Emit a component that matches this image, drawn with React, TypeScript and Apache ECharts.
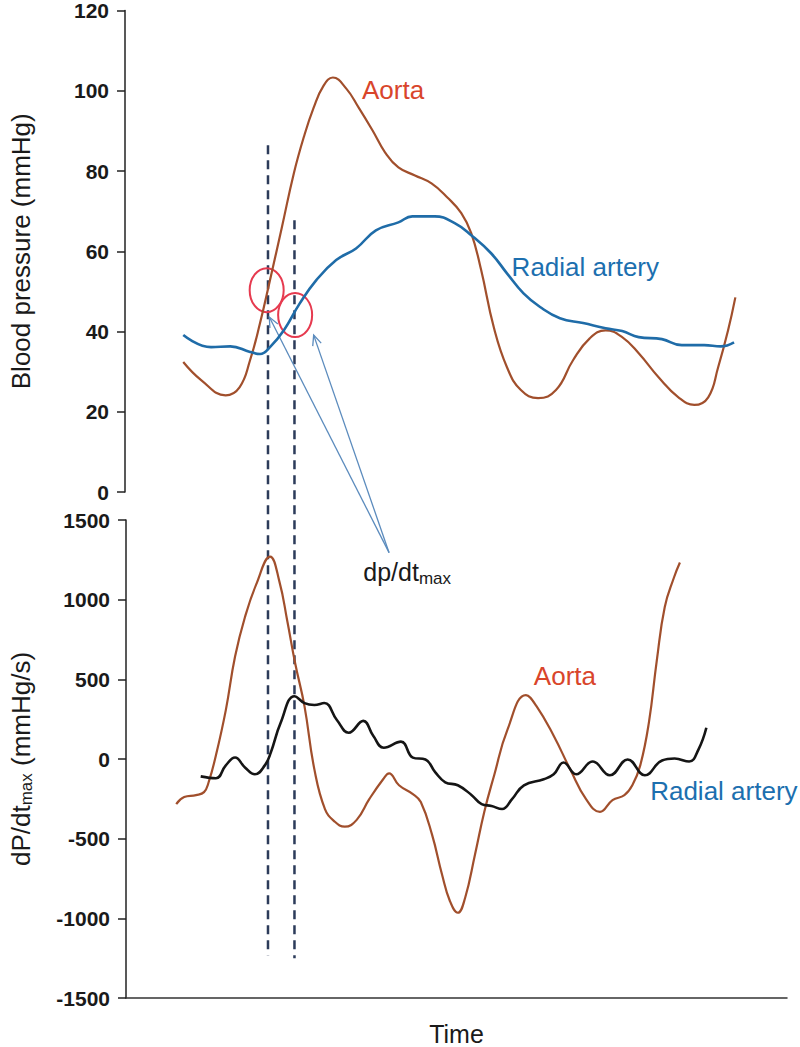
import React, { useEffect, useRef } from "react";
import * as echarts from "echarts";

// ---- Data (time in % of the displayed window) ----
const aortaPressureTime = [8.8, 11.5, 15.2, 17.3, 18.9, 20.4, 21.9, 23.7, 25.5, 27.0, 28.5, 30.0, 31.4, 33.4, 35.3, 37.4, 39.3, 41.3, 43.8, 46.3, 48.7, 50.8, 52.3, 53.8, 55.7, 57.7, 59.8, 62.4, 65.1, 67.7, 70.2, 72.6, 75.1, 77.6, 80.6, 83.6, 86.0, 88.1, 89.6, 91.1, 92.2];
const aortaPressure = [32.4, 27.9, 24.1, 26.1, 32.9, 42.1, 52.8, 66, 79.4, 88.4, 95.8, 101.3, 103.3, 100.6, 95.8, 90.1, 84.6, 80.9, 78.9, 76.9, 73.4, 69.5, 64.5, 55.3, 41.1, 31.1, 25.4, 23.4, 25.4, 32.9, 38.3, 40.3, 38.6, 34.6, 28.6, 23.6, 21.7, 23.6, 31.1, 40.3, 48.5];

const radialPressureTime = [8.8, 13.0, 15.9, 18.9, 20.4, 21.9, 24.0, 26.4, 28.9, 31.9, 34.9, 37.9, 41.3, 43.4, 46.8, 49.8, 52.3, 55.3, 57.7, 60.2, 62.7, 65.7, 69.2, 72.6, 75.1, 77.6, 81.1, 84.1, 87.5, 90.0, 92.0];
const radialPressure = [39.1, 36.1, 36.3, 34.9, 34.4, 36.1, 40.3, 47, 52.8, 57.8, 60.7, 65.2, 67.2, 68.7, 68.7, 67, 64, 59.5, 54.5, 49.5, 46.1, 43.3, 42.1, 40.8, 40.1, 38.6, 38.1, 36.6, 36.6, 36.3, 37.3];

const aortaDpdtTime = [7.6, 8.8, 10.6, 11.8, 12.5, 13.6, 15.1, 16.5, 18.0, 19.7, 21.8, 23.2, 24.4, 25.6, 27.0, 28.5, 30.1, 31.6, 33.1, 34.9, 36.8, 38.9, 39.8, 41.3, 43.4, 44.6, 46.3, 47.8, 49.0, 50.2, 51.3, 52.8, 54.2, 55.7, 57.7, 60.5, 62.1, 64.7, 67.2, 69.6, 71.7, 73.6, 75.4, 76.6, 77.8, 79.1, 80.3, 81.5, 82.9, 83.8];
const aortaDpdt = [-283, -239, -227, -208, -146, 22, 307, 643, 891, 1096, 1270, 1115, 866, 599, 332, -65, -314, -394, -425, -382, -252, -127, -90, -165, -220, -270, -475, -723, -891, -965, -872, -599, -332, -102, 183, 401, 332, 146, -65, -252, -332, -258, -227, -165, -40, 227, 618, 953, 1139, 1233];

const radialDpdtTime = [11.3, 13.6, 15.1, 16.5, 18.0, 19.5, 21.0, 21.9, 23.4, 25.5, 27.0, 28.5, 30.0, 31.9, 33.7, 35.9, 37.4, 39.0, 41.6, 43.4, 45.3, 46.8, 48.3, 50.2, 52.3, 53.8, 55.3, 56.9, 58.4, 60.2, 63.2, 64.7, 66.2, 68.1, 70.6, 73.2, 75.9, 78.5, 81.1, 83.0, 85.2, 86.6, 87.8];
const radialDpdt = [-109, -121, -40, 9, -53, -96, -40, 40, 227, 394, 351, 339, 351, 245, 165, 239, 146, 71, 109, 9, -3, -84, -146, -165, -227, -283, -295, -314, -252, -165, -127, -96, -22, -96, -16, -102, -3, -102, -9, 3, -16, 59, 196];

// ---- Axis settings ----
const pressureTicks = { min: 0, max: 120, interval: 20 };
const dpdtTicks = { min: -1500, max: 1500, interval: 500 };

// ---- Annotation anchors (data coordinates) ----
// dp/dt max instants [time, top of dashed line in pressure, bottom in dP/dt]
const dpdtMaxMarkers = [
  [21.6, 86.4, -1233],
  [25.6, 67.7, -1251],
];
// circled points on the pressure curves
const circledPoints = [
  [21.4, 50.3],
  [25.7, 44.1],
];
// arrow tips on the pressure panel
const arrowTips = [
  [21.8, 43.6],
  [28.5, 39.1],
];
// arrow origin in dP/dt panel
const arrowOrigin = [39.8, 1295];
const dpdtLabelPos = [35.9, 1171];
const aortaTopLabel = [35.8, 100.3];
const radialTopLabel = [58.4, 56.0];
const aortaBottomLabel = [61.7, 519];
const radialBottomLabel = [79.3, -202];

const FONT = "'Liberation Sans', Arial, sans-serif";
const AORTA = "#a14f2c";
const RADIAL_TOP = "#1f6ca8";
const RADIAL_BOTTOM = "#151515";
const AORTA_LABEL = "#d9452b";
const RADIAL_LABEL = "#1c6faf";
const DASH = "#2c3b5a";
const CIRCLE = "#e63a4f";
const ARROW = "#5b8bbd";

const pairs = (t: number[], v: number[]) => t.map((x, i) => [x, v[i]]);

export default function App() {
  const ref = useRef<HTMLDivElement>(null);

  useEffect(() => {
    if (!ref.current) return;
    const chart = echarts.init(ref.current, null, { renderer: "svg" });

    const yAxisCommon = {
      type: "value" as const,
      axisLine: { show: true, onZero: false, lineStyle: { color: "#222", width: 1.5 } },
      axisTick: { show: true, length: 8, lineStyle: { color: "#222", width: 1.5 } },
      axisLabel: {
        fontSize: 21,
        fontWeight: "bold" as const,
        color: "#1a1a1a",
        fontFamily: FONT,
        margin: 16,
        formatter: (v: number) => String(v),
      },
      splitLine: { show: false },
      nameLocation: "middle" as const,
      nameRotate: 90,
      nameGap: 91,
      nameTextStyle: { fontSize: 26, color: "#1a1a1a", fontFamily: FONT },
    };

    const lineCommon = {
      type: "line" as const,
      showSymbol: false,
      smooth: 0.45,
      silent: true,
    };

    chart.setOption({
      animation: false,
      backgroundColor: "#ffffff",
      grid: [
        { left: 116, top: 10, width: 671, height: 482 },
        { left: 116, top: 520, width: 671, height: 483 },
      ],
      xAxis: [
        { gridIndex: 0, type: "value", min: 0, max: 100, show: false },
        {
          gridIndex: 1,
          type: "value",
          min: 0,
          max: 100,
          axisLine: { show: true, onZero: false, lineStyle: { color: "#333", width: 1.5 } },
          axisTick: { show: false },
          axisLabel: { show: false },
          splitLine: { show: false },
          name: "Time",
          nameLocation: "middle",
          nameGap: 23,
          nameTextStyle: { fontSize: 25, color: "#1a1a1a", fontFamily: FONT },
        },
      ],
      yAxis: [
        {
          ...yAxisCommon,
          gridIndex: 0,
          ...pressureTicks,
          name: "Blood pressure (mmHg)",
        },
        {
          ...yAxisCommon,
          gridIndex: 1,
          ...dpdtTicks,
          name: "dP/dt{sub|max} (mmHg/s)",
          nameTextStyle: {
            fontSize: 26,
            color: "#1a1a1a",
            fontFamily: FONT,
            rich: {
              sub: { fontSize: 17, fontFamily: FONT, color: "#1a1a1a", padding: [11, 0, 0, 0] },
            },
          },
        },
      ],
      series: [
        {
          ...lineCommon,
          name: "Aorta pressure",
          xAxisIndex: 0,
          yAxisIndex: 0,
          data: pairs(aortaPressureTime, aortaPressure),
          lineStyle: { color: AORTA, width: 2.2 },
        },
        {
          ...lineCommon,
          name: "Radial pressure",
          xAxisIndex: 0,
          yAxisIndex: 0,
          data: pairs(radialPressureTime, radialPressure),
          lineStyle: { color: RADIAL_TOP, width: 2.6 },
        },
        {
          ...lineCommon,
          name: "Aorta dP/dt",
          xAxisIndex: 1,
          yAxisIndex: 1,
          data: pairs(aortaDpdtTime, aortaDpdt),
          lineStyle: { color: AORTA, width: 2.2 },
        },
        {
          ...lineCommon,
          name: "Radial dP/dt",
          xAxisIndex: 1,
          yAxisIndex: 1,
          data: pairs(radialDpdtTime, radialDpdt),
          lineStyle: { color: RADIAL_BOTTOM, width: 2.6 },
        },
      ],
    });

    const px = (grid: number, p: number[]) =>
      chart.convertToPixel({ gridIndex: grid } as any, p) as number[];

    const graphics: any[] = [];

    // dashed vertical lines spanning both panels
    dpdtMaxMarkers.forEach(([t, vTop, vBot]) => {
      const a = px(0, [t, vTop]);
      const b = px(1, [t, vBot]);
      graphics.push({
        type: "line",
        silent: true,
        shape: { x1: a[0], y1: a[1], x2: a[0], y2: b[1] },
        style: { stroke: DASH, lineWidth: 2.5, lineDash: [9, 6] },
      });
    });

    // red ellipses
    circledPoints.forEach((p) => {
      const c = px(0, p);
      graphics.push({
        type: "ellipse",
        silent: true,
        shape: { cx: c[0], cy: c[1], rx: 17, ry: 22 },
        style: { fill: "none", stroke: CIRCLE, lineWidth: 2 },
      });
    });

    // arrows
    const o = px(1, arrowOrigin);
    arrowTips.forEach((tip) => {
      const t = px(0, tip);
      graphics.push({
        type: "line",
        silent: true,
        shape: { x1: o[0], y1: o[1], x2: t[0], y2: t[1] },
        style: { stroke: ARROW, lineWidth: 1.3 },
      });
      const ang = Math.atan2(o[1] - t[1], o[0] - t[0]);
      const L = 11;
      const spread = 0.42;
      graphics.push({
        type: "polyline",
        silent: true,
        shape: {
          points: [
            [t[0] + L * Math.cos(ang + spread), t[1] + L * Math.sin(ang + spread)],
            [t[0], t[1]],
            [t[0] + L * Math.cos(ang - spread), t[1] + L * Math.sin(ang - spread)],
          ],
        },
        style: { stroke: ARROW, fill: "none", lineWidth: 1.3 },
      });
    });

    const textEl = (grid: number, p: number[], text: string, fill: string, size: number, rich?: any) => {
      const q = px(grid, p);
      return {
        type: "text",
        silent: true,
        x: q[0],
        y: q[1],
        style: {
          text,
          fill,
          fontSize: size,
          fontFamily: FONT,
          align: "left",
          verticalAlign: "middle",
          textAlign: "left",
          textVerticalAlign: "middle",
          ...(rich ? { rich } : {}),
        },
      };
    };

    graphics.push(textEl(0, aortaTopLabel, "Aorta", AORTA_LABEL, 26));
    graphics.push(textEl(0, radialTopLabel, "Radial artery", RADIAL_LABEL, 26));
    graphics.push(textEl(1, aortaBottomLabel, "Aorta", AORTA_LABEL, 26));
    graphics.push(textEl(1, radialBottomLabel, "Radial artery", RADIAL_LABEL, 26));
    graphics.push(
      textEl(1, dpdtLabelPos, "{a|dp/dt}{b|max}", "#1a1a1a", 25, {
        a: { fontSize: 25, fontFamily: FONT, fill: "#1a1a1a", color: "#1a1a1a" },
        b: { fontSize: 17, fontFamily: FONT, fill: "#1a1a1a", color: "#1a1a1a", padding: [12, 0, 0, 0] },
      })
    );

    chart.setOption({ graphic: graphics });

    return () => chart.dispose();
  }, []);

  return (
    <div
      ref={ref}
      style={{ position: "absolute", left: 0, top: 0, width: 800, height: 1047 }}
    />
  );
}
